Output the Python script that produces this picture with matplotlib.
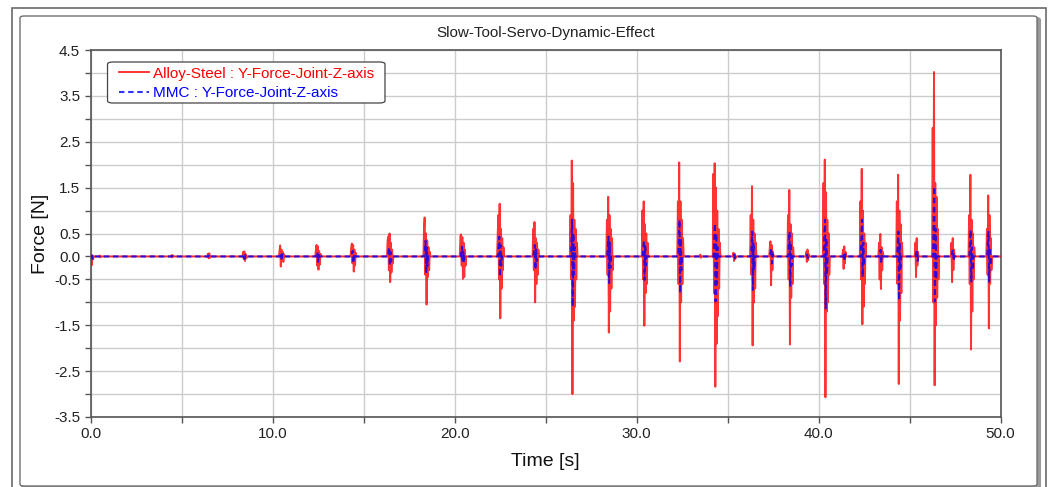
import numpy as np
import matplotlib.pyplot as plt
from matplotlib.patches import Rectangle, FancyBboxPatch
from matplotlib.ticker import MultipleLocator, FixedLocator, FormatStrFormatter

plt.rcParams['font.family'] = ['Liberation Sans', 'DejaVu Sans']

# sample spacing inside a burst [s]
dt = 0.035

# start time of every burst [s]
burst_times = [0.03, 0.5, 4.45, 6.45, 8.38, 10.38, 12.38, 14.32, 16.32, 18.32, 20.32,
               22.37, 24.32, 26.37, 28.37, 30.32, 32.27, 33.5, 34.22, 35.32, 36.27,
               37.32, 38.32, 39.32, 40.27, 41.34, 42.3, 43.32, 44.3, 45.32,
               46.27, 47.3, 48.27, 49.25]

# Alloy-Steel force samples per burst [N]
steel_bursts = [
    [0.03, -0.19, 0.02, -0.06],
    [0.02, -0.02],
    [0.03, -0.02, 0.02],
    [0.06, -0.04, 0.07, -0.03],
    [0.1, -0.06, 0.11, -0.1, 0.05, -0.04],
    [0.12, 0.24, -0.22, 0.15, -0.08, 0.1, -0.12, 0.05],
    [0.15, 0.25, -0.2, 0.22, -0.29, 0.12, -0.18, 0.06],
    [0.2, 0.28, -0.15, 0.25, -0.33, 0.15, -0.2, 0.08],
    [0.35, 0.43, -0.3, 0.5, -0.56, 0.3, -0.35, 0.15, -0.15],
    [0.6, 0.85, -0.4, 0.5, -1.05, 0.35, -0.45, 0.2, -0.3, 0.1],
    [0.45, 0.48, -0.2, 0.42, -0.49, 0.3, -0.45, 0.15, -0.2],
    [0.5, 0.9, -0.5, 1.15, -1.35, 0.6, -0.7, 0.4, -0.3, 0.2],
    [0.6, -0.3, 0.75, -1.0, 0.4, -0.6, 0.3, -0.4, 0.15],
    [0.9, -0.5, 2.09, -3.0, 1.6, -1.4, 0.8, -1.1, 0.6, -0.5, 0.3],
    [0.8, -0.4, 1.3, -1.66, 0.9, -1.2, 0.6, -0.7, 0.4, -0.3],
    [1.0, -0.5, 1.2, -1.51, 0.7, -0.8, 0.5, -0.6, 0.3],
    [1.2, -0.6, 2.05, -2.29, 1.2, -1.0, 0.8, -0.6, 0.4],
    [0.04, -0.03],
    [1.8, -0.8, 2.03, -2.84, 1.5, -1.9, 1.0, -1.3, 0.6, -0.7, 0.3],
    [0.08, -0.1, 0.06, -0.05],
    [0.9, -0.4, 1.53, -1.94, 0.8, -1.0, 0.5, -0.7, 0.3],
    [0.2, 0.33, -0.63, 0.25, -0.3, 0.1],
    [0.9, -0.5, 1.45, -1.92, 0.7, -0.9, 0.5, -0.6, 0.2],
    [0.1, -0.12, 0.15, -0.08, 0.05],
    [1.6, -0.6, 2.11, -3.07, 1.4, -1.2, 0.8, -1.0, 0.5, -0.4],
    [0.15, -0.27, 0.22, -0.15, 0.1],
    [1.2, -0.5, 1.91, -1.48, 1.0, -1.1, 0.5, -0.6, 0.3],
    [0.3, -0.5, 0.49, -0.71, 0.2, -0.3, 0.1],
    [1.2, -0.6, 1.78, -2.78, 1.0, -1.4, 0.7, -0.8, 0.3],
    [0.3, -0.45, 0.4, -0.2, 0.1],
    [2.8, -1.0, 4.02, -2.81, 1.6, -1.5, 1.3, -0.9, 0.6, -0.5],
    [0.3, -0.56, 0.4, -0.3, 0.15],
    [0.9, -0.6, 1.78, -2.03, 0.8, -1.2, 0.5, -0.5, 0.2],
    [0.6, -0.4, 1.33, -1.57, 0.9, -0.6, 0.4, -0.3],
]

# MMC force samples per burst [N]
mmc_bursts = [
    [0.02, -0.05],
    [0.01],
    [0.01],
    [0.02, -0.02],
    [0.04, -0.05, 0.03],
    [0.05, 0.08, -0.1, 0.05],
    [0.06, 0.1, -0.12, 0.06],
    [0.08, 0.12, -0.15, 0.06],
    [0.1, 0.2, -0.2, 0.1, -0.11],
    [0.15, 0.34, -0.37, 0.2, -0.2],
    [0.12, 0.21, -0.14, 0.1, -0.1],
    [0.2, 0.43, -0.44, 0.25, -0.2],
    [0.15, 0.25, -0.29, 0.15, -0.1],
    [0.3, 0.8, -1.09, 0.5, -0.4, 0.2],
    [0.2, 0.43, -0.58, 0.3, -0.25],
    [0.2, 0.36, -0.51, 0.25, -0.2],
    [0.3, 0.8, -0.8, 0.4, -0.3],
    [0.01],
    [0.4, 0.72, -0.98, 0.5, -0.6, 0.2],
    [0.04, -0.04],
    [0.3, 0.54, -0.73, 0.3, -0.3],
    [0.1, 0.18, -0.15, 0.05],
    [0.3, 0.54, -0.66, 0.3, -0.2],
    [0.04, -0.04],
    [0.5, 0.8, -1.13, 0.4, -0.4],
    [0.08, -0.1, 0.05],
    [0.4, 0.8, -0.45, 0.3, -0.2],
    [0.1, 0.14, -0.15, 0.05],
    [0.3, 0.54, -0.95, 0.3, -0.3],
    [0.1, 0.15, -0.1],
    [0.8, 1.52, -0.98, 0.6, -0.5],
    [0.1, 0.15, -0.1],
    [0.3, 0.58, -0.55, 0.2, -0.3],
    [0.3, 0.54, -0.55, 0.2, -0.2],
]

t_end = 50.0


def build_series(starts, bursts, lag):
    t = [0.0]
    y = [0.0]
    for t0, vals in zip(starts, bursts):
        t0 = t0 + lag
        t.append(t0 - dt)
        y.append(0.0)
        for i, v in enumerate(vals):
            t.append(t0 + i * dt)
            y.append(v)
        t.append(t0 + len(vals) * dt)
        y.append(0.0)
    t.append(t_end)
    y.append(0.0)
    return np.array(t), np.array(y)


t_steel, f_steel = build_series(burst_times, steel_bursts, 0.0)
t_mmc, f_mmc = build_series(burst_times, mmc_bursts, 0.05)

fig = plt.figure(figsize=(10.48, 4.87), dpi=100)

# outer frame and inner panel (behind the axes)
fig.patches.append(Rectangle((12 / 1048, -0.02), 1034 / 1048, 1 - 8 / 487 + 0.02,
                             transform=fig.transFigure, fill=False,
                             edgecolor='#6a6a6a', lw=1.2, zorder=-3))
fig.patches.append(FancyBboxPatch((22 / 1048, 1 - 488 / 487), 1018 / 1048, (488 - 18) / 487,
                                  boxstyle='round,pad=0,rounding_size=0.004',
                                  transform=fig.transFigure, facecolor='#9a9a9a',
                                  edgecolor='#9a9a9a', lw=1.5, zorder=-2))
fig.patches.append(FancyBboxPatch((20 / 1048, 1 - 486 / 487), 1017 / 1048, (486 - 16) / 487,
                                  boxstyle='round,pad=0,rounding_size=0.004',
                                  transform=fig.transFigure, facecolor='white',
                                  edgecolor='#707070', lw=1.0, zorder=-1))

ax = fig.add_axes([90.6 / 1048, 1 - 417 / 487, 910 / 1048, 367 / 487])

ax.plot(t_steel, f_steel, color='red', lw=1.4, alpha=0.8,
        label='Alloy-Steel : Y-Force-Joint-Z-axis', zorder=3)
ax.plot(t_mmc, f_mmc, color='blue', lw=1.5, alpha=0.8, dashes=(2.6, 1.8),
        label='MMC : Y-Force-Joint-Z-axis', zorder=4)

ax.set_xlim(0, 50)
ax.set_ylim(-3.5, 4.5)

ax.xaxis.set_major_locator(MultipleLocator(10))
ax.xaxis.set_minor_locator(MultipleLocator(5))
ax.xaxis.set_major_formatter(FormatStrFormatter('%.1f'))
ax.yaxis.set_major_locator(FixedLocator([-3.5, -2.5, -1.5, -0.5, 0.0, 0.5, 1.5, 2.5, 3.5, 4.5]))
ax.yaxis.set_minor_locator(FixedLocator([-3, -2, -1, 1, 2, 3, 4]))
ax.yaxis.set_major_formatter(FormatStrFormatter('%.1f'))

ax.grid(True, which='both', color='#cccccc', lw=1.0, zorder=0)
ax.set_axisbelow(True)
ax.tick_params(which='both', direction='out', length=4, width=1, color='#555555',
               labelsize=11, labelcolor='#222222')
for sp in ax.spines.values():
    sp.set_color('#555555')
    sp.set_linewidth(1.2)

ax.set_title('Slow-Tool-Servo-Dynamic-Effect', fontsize=11, color='#222222', pad=9)
ax.set_xlabel('Time [s]', fontsize=14, color='#111111', labelpad=8)
ax.set_ylabel('Force [N]', fontsize=14, color='#111111', labelpad=4)

# legend box drawn separately so the inner padding can differ per side
ax.add_patch(FancyBboxPatch((0.0186, 0.8556), 0.3049, 0.1117,
                            boxstyle='round,pad=0,rounding_size=0.006',
                            transform=ax.transAxes, facecolor='white',
                            edgecolor='#444444', lw=0.9, zorder=5))
leg = ax.legend(loc='upper left', bbox_to_anchor=(0.0312, 0.955), borderaxespad=0,
                fontsize=11, handlelength=1.95, handletextpad=0.3, labelspacing=0.36,
                borderpad=0.0, frameon=False)
leg.set_zorder(6)
for txt, line in zip(leg.get_texts(), leg.get_lines()):
    txt.set_color(line.get_color())

fig.savefig('out.png', dpi=100)
